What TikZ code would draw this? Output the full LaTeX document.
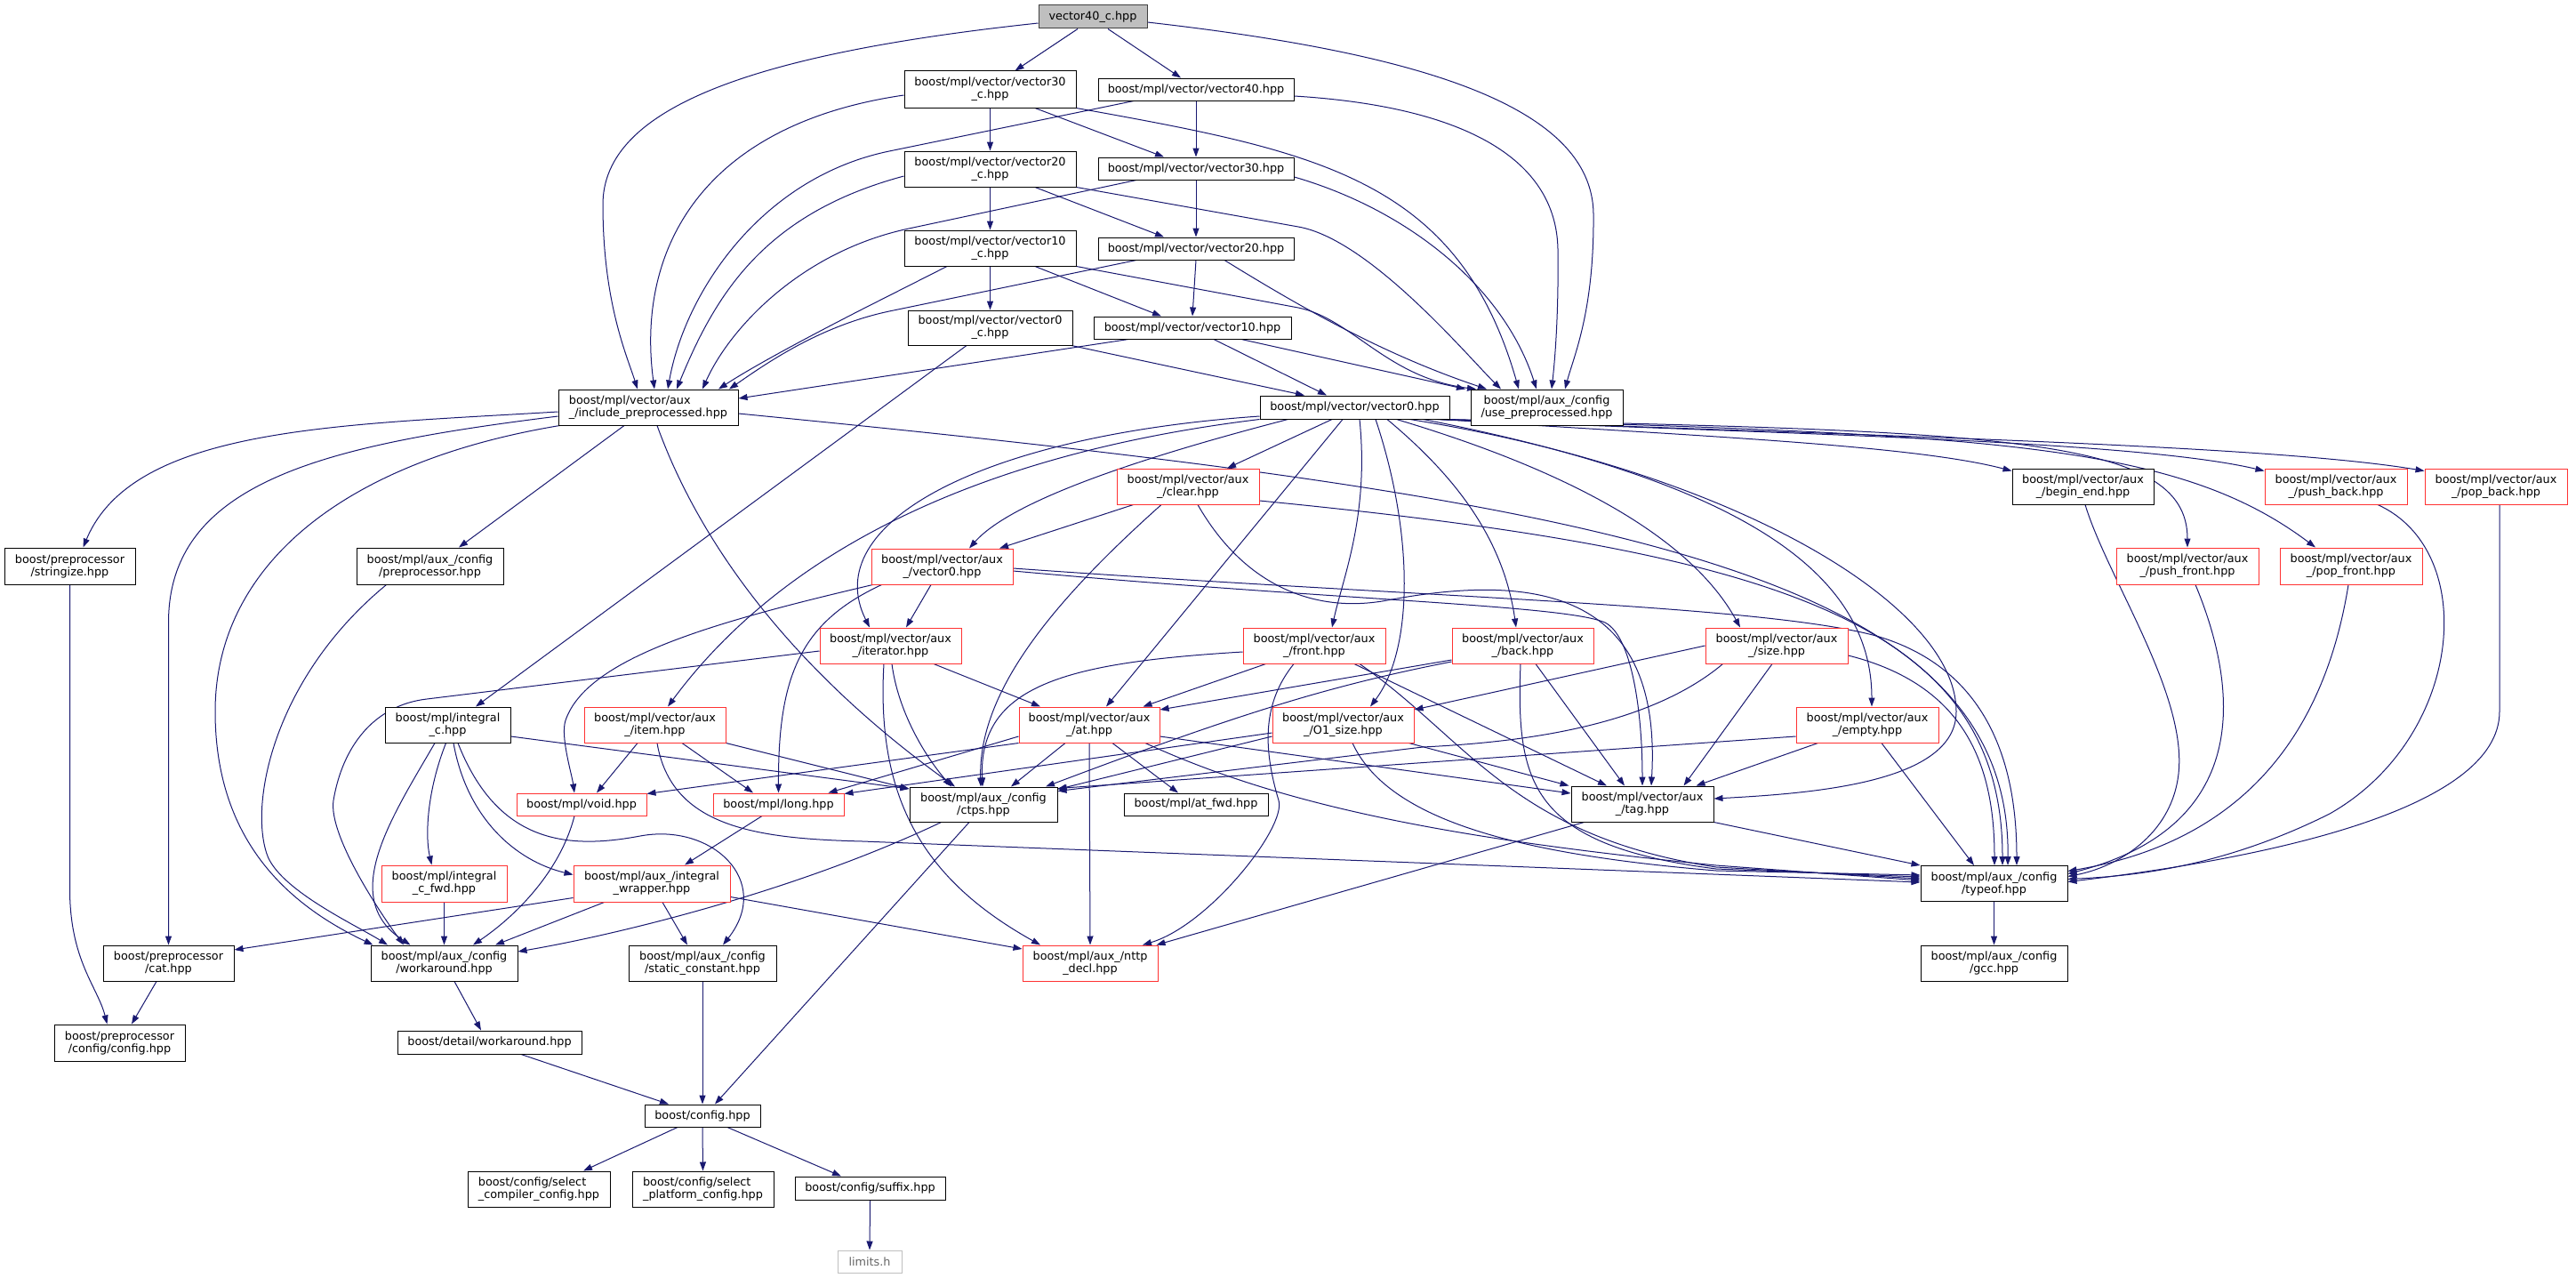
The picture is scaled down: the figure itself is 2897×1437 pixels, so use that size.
\documentclass[tikz,border=0pt]{standalone}
\usepackage{fontspec}
\setmainfont{DejaVu Sans}
\usetikzlibrary{arrows.meta}
\definecolor{medge}{RGB}{25,25,112}
\definecolor{tred}{RGB}{255,50,50}
\definecolor{gfill}{RGB}{191,191,191}
\definecolor{gline}{RGB}{191,191,191}
\newcommand{\dxfont}{\fontsize{12.8pt}{14pt}\selectfont}
\pgfdeclarelayer{bg}
\pgfsetlayers{bg,main}
\tikzset{
  box/.style={draw=black, line width=1pt, fill=white, inner sep=0pt, align=center, font=\dxfont, text=black},
  rbox/.style={box, draw=tred},
  wh/.style 2 args={minimum width=#1pt, minimum height=#2pt},
  e/.style={draw=medge, line width=1pt, -{Triangle[length=10pt,width=7pt]}},
}
\begin{document}
\begin{tikzpicture}[x=1pt,y=-1pt]
\useasboundingbox (0,0) rectangle (2897,1437);
% ---------- nodes ----------
\node[box, wh={122}{26}, fill=gfill, draw=black!75] (v40c) at (1229,19) {vector40\_c.hpp};
\node[box, wh={193}{41}] (v30c) at (1113.5,100.5) {boost/mpl/vector/vector30\\\_c.hpp};
\node[box, wh={220}{25}] (v40) at (1345,100.5) {boost/mpl/vector/vector40.hpp};
\node[box, wh={193}{40}] (v20c) at (1113.5,190) {boost/mpl/vector/vector20\\\_c.hpp};
\node[box, wh={220}{25}] (v30) at (1345,189.5) {boost/mpl/vector/vector30.hpp};
\node[box, wh={193}{40}] (v10c) at (1113.5,279) {boost/mpl/vector/vector10\\\_c.hpp};
\node[box, wh={220}{25}] (v20) at (1345,279.5) {boost/mpl/vector/vector20.hpp};
\node[box, wh={185}{39}] (v0c) at (1113.5,368.5) {boost/mpl/vector/vector0\\\_c.hpp};
\node[box, wh={222}{25}] (v10) at (1341,368.5) {boost/mpl/vector/vector10.hpp};
\node[box, wh={213}{26}] (v0) at (1523.5,458) {boost/mpl/vector/vector0.hpp};
\node[box, wh={171}{40}] (usep) at (1739.5,458) {boost/mpl/aux\_/config\\/use\_preprocessed.hpp};
\node[box, wh={202}{40}, align=left] (incp) at (729,458) {boost/mpl/vector/aux\\\_/include\_preprocessed.hpp};
\node[box, wh={147}{41}] (stringize) at (78.5,636.5) {boost/preprocessor\\/stringize.hpp};
\node[box, wh={165}{41}] (pp) at (483.5,636.5) {boost/mpl/aux\_/config\\/preprocessor.hpp};
\node[rbox, wh={160}{40}] (clear) at (1336,547) {boost/mpl/vector/aux\\\_/clear.hpp};
\node[rbox, wh={159}{40}] (av0) at (1059.5,637) {boost/mpl/vector/aux\\\_/vector0.hpp};
\node[rbox, wh={159}{40}] (iterator) at (1001.5,726) {boost/mpl/vector/aux\\\_/iterator.hpp};
\node[rbox, wh={160}{40}] (front) at (1478,726) {boost/mpl/vector/aux\\\_/front.hpp};
\node[rbox, wh={159}{40}] (back) at (1712.5,726) {boost/mpl/vector/aux\\\_/back.hpp};
\node[rbox, wh={160}{40}] (size) at (1998,726) {boost/mpl/vector/aux\\\_/size.hpp};
\node[rbox, wh={160}{40}] (empty) at (2100,815) {boost/mpl/vector/aux\\\_/empty.hpp};
\node[box, wh={159}{40}] (begin_end) at (2342.5,547) {boost/mpl/vector/aux\\\_/begin\_end.hpp};
\node[rbox, wh={160}{40}] (push_back) at (2627,547) {boost/mpl/vector/aux\\\_/push\_back.hpp};
\node[rbox, wh={160}{40}] (pop_back) at (2807,547) {boost/mpl/vector/aux\\\_/pop\_back.hpp};
\node[rbox, wh={160}{41}] (push_front) at (2460,636.5) {boost/mpl/vector/aux\\\_/push\_front.hpp};
\node[rbox, wh={160}{41}] (pop_front) at (2644,636.5) {boost/mpl/vector/aux\\\_/pop\_front.hpp};
\node[box, wh={141}{40}] (integral_c) at (503.5,815) {boost/mpl/integral\\\_c.hpp};
\node[rbox, wh={159}{40}] (item) at (736.5,815) {boost/mpl/vector/aux\\\_/item.hpp};
\node[rbox, wh={158}{40}] (at) at (1225,815) {boost/mpl/vector/aux\\\_/at.hpp};
\node[rbox, wh={159}{40}] (O1) at (1510.5,815) {boost/mpl/vector/aux\\\_/O1\_size.hpp};
\node[rbox, wh={146}{25}] (void) at (654,904.5) {boost/mpl/void.hpp};
\node[rbox, wh={147}{25}] (long) at (875.5,904.5) {boost/mpl/long.hpp};
\node[box, wh={166}{39}] (ctps) at (1106,904.5) {boost/mpl/aux\_/config\\/ctps.hpp};
\node[box, wh={162}{25}] (atfwd) at (1345,904.5) {boost/mpl/at\_fwd.hpp};
\node[box, wh={160}{40}] (tag) at (1847,904) {boost/mpl/vector/aux\\\_/tag.hpp};
\node[box, wh={165}{40}] (typeof) at (2242.5,993.5) {boost/mpl/aux\_/config\\/typeof.hpp};
\node[box, wh={165}{40}] (gcc) at (2242.5,1083) {boost/mpl/aux\_/config\\/gcc.hpp};
\node[rbox, wh={141}{41}] (icfwd) at (499.5,993.5) {boost/mpl/integral\\\_c\_fwd.hpp};
\node[rbox, wh={176}{41}] (iw) at (733,993.5) {boost/mpl/aux\_/integral\\\_wrapper.hpp};
\node[rbox, wh={152}{40}] (nttp) at (1226,1083) {boost/mpl/aux\_/nttp\\\_decl.hpp};
\node[box, wh={147}{40}] (cat) at (189.5,1083) {boost/preprocessor\\/cat.hpp};
\node[box, wh={165}{40}] (workaround) at (499.5,1083) {boost/mpl/aux\_/config\\/workaround.hpp};
\node[box, wh={166}{40}] (static_constant) at (790,1083) {boost/mpl/aux\_/config\\/static\_constant.hpp};
\node[box, wh={147}{41}] (ppcfg) at (134.5,1172.5) {boost/preprocessor\\/config/config.hpp};
\node[box, wh={207}{26}] (dwa) at (550.5,1172) {boost/detail/workaround.hpp};
\node[box, wh={130}{25}] (config) at (790,1254.5) {boost/config.hpp};
\node[box, wh={160}{40}, align=left] (selc) at (606,1337) {boost/config/select\\\_compiler\_config.hpp};
\node[box, wh={159}{40}, align=left] (selp) at (790.5,1337) {boost/config/select\\\_platform\_config.hpp};
\node[box, wh={169}{26}] (suffix) at (978.5,1336) {boost/config/suffix.hpp};
\node[box, wh={72}{25}, draw=gline, text=black!60] (limits) at (978,1418.5) {limits.h};
% ---------- edges ----------
\begin{pgfonlayer}{bg}
% vector40_c
\draw[e] ([xshift=-17pt]v40c.south) -- ([xshift=28pt]v30c.north);
\draw[e] ([xshift=17pt]v40c.south) -- ([xshift=-17pt]v40.north);
\draw[e] ([yshift=-6pt]v40c.east) .. controls (1600,60) and (1790,120) .. (1792,240) .. controls (1793,350) and (1770,400) .. ([xshift=20.5pt]usep.north);
\draw[e] ([yshift=-7pt]v40c.west) .. controls (850,60) and (678,120) .. (678,230) .. controls (678,340) and (705,400) .. ([xshift=-12pt]incp.north);
% vector30_c
\draw[e] (v30c.south) -- (v20c.north);
\draw[e] ([xshift=50.5pt]v30c.south) -- ([xshift=-36pt]v30.north);
\draw[e] (v30c.south east) .. controls (1480,170) and (1640,200) .. ([xshift=-31.5pt]usep.north);
\draw[e] ([yshift=-6.5pt]v30c.west) .. controls (790,140) and (715,280) .. ([xshift=7pt]incp.north);
% vector40
\draw[e] (v40.south) -- (v30.north);
\draw[e] ([yshift=-7.5pt]v40.east) .. controls (1650,120) and (1750,180) .. (1752,280) .. controls (1753,360) and (1748,410) .. ([xshift=5.5pt]usep.north);
\draw[e] ([xshift=-70pt]v40.south) -- (1000,170) .. controls (855,200) and (770,330) .. ([xshift=22pt]incp.north);
% vector20_c
\draw[e] (v20c.south) -- (v10c.north);
\draw[e] ([xshift=50.5pt]v20c.south) -- ([xshift=-36pt]v20.north);
\draw[e] (v20c.south east) -- (1460,255) .. controls (1540,269) and (1650,400) .. ([xshift=-51.5pt]usep.north);
\draw[e] ([yshift=-8pt]v20c.west) .. controls (860,240) and (805,330) .. ([xshift=32pt]incp.north);
% vector30
\draw[e] (v30.south) -- (v20.north);
\draw[e] ([yshift=-9.5pt]v30.east) .. controls (1580,235) and (1690,320) .. ([xshift=-11.5pt]usep.north);
\draw[e] ([xshift=-67pt]v30.south) -- (1022,257) .. controls (900,283) and (820,370) .. ([xshift=61pt]incp.north);
% vector10_c
\draw[e] (v10c.south) -- (v0c.north);
\draw[e] ([xshift=50.5pt]v10c.south) -- ([xshift=-35pt]v10.north);
\draw[e] (v10c.south east) -- (1460,346) .. controls (1520,358) and (1560,425) .. ([xshift=-79.5pt]usep.north);
\draw[e] ([xshift=-48.5pt]v10c.south) -- (975,345) .. controls (920,373) and (850,410) .. ([xshift=79pt]incp.north);
% vector20
\draw[e] (v20.south) -- (v10.north);
\draw[e] ([xshift=32pt]v20.south) .. controls (1470,350) and (1560,400) .. ([xshift=-67.5pt]usep.north);
\draw[e] ([xshift=-67pt]v20.south) -- (1000,350) .. controls (920,367) and (860,410) .. ([xshift=91pt]incp.north);
% vector0_c
\draw[e] ([xshift=91.5pt]v0c.south) -- ([xshift=-56.5pt]v0.north);
\draw[e] ([xshift=-26.5pt]v0c.south) -- ([xshift=31.5pt]integral_c.north);
% vector10
\draw[e] ([xshift=24pt]v10.south) -- ([xshift=-31.5pt]v0.north);
\draw[e] ([xshift=55pt]v10.south) -- ([xshift=-91.5pt]usep.north);
\draw[e] ([xshift=-72pt]v10.south) -- ([yshift=10pt]incp.east);
% include_preprocessed
\draw[e] ([yshift=-5pt]incp.west) .. controls (380,478) and (150,480) .. ([xshift=15pt]stringize.north);
\draw[e] ([xshift=-27pt]incp.south) -- ([xshift=32.5pt]pp.north);
\draw[e] ([yshift=-10pt]incp.west) .. controls (370,500) and (189.5,540) .. (189.5,700) -- (cat.north);
\draw[e] ([xshift=2pt]incp.south west) .. controls (380,520) and (242,640) .. (242,800) .. controls (242,950) and (330,1020) .. ([xshift=3pt]workaround.north west);
\draw[e] ([xshift=10pt]incp.south) .. controls (790,620) and (900,760) .. ([xshift=-32pt]ctps.north);
\draw[e] ([yshift=-7pt]incp.east) .. controls (1800,560) and (2262,640) .. ([xshift=15.5pt]typeof.north);
% vector0
\draw[e] ([xshift=-25.5pt]v0.south) -- ([xshift=44pt]clear.north);
\draw[e] ([xshift=32pt]v0.south west) .. controls (1300,510) and (1140,560) .. ([xshift=30.5pt]av0.north);
\draw[e] ([yshift=-10pt]v0.west) .. controls (1100,490) and (920,590) .. ([xshift=-23.5pt]iterator.north);
\draw[e] (v0.south west) .. controls (1100,510) and (880,620) .. ([xshift=14.5pt]item.north);
\draw[e] ([xshift=-13.5pt]v0.south) -- ([xshift=19pt]at.north);
\draw[e] ([xshift=5.5pt]v0.south) .. controls (1540,580) and (1510,650) .. ([xshift=20pt]front.north);
\draw[e] ([xshift=23.5pt]v0.south) .. controls (1590,600) and (1590,730) .. ([xshift=30.5pt]O1.north);
\draw[e] ([xshift=36.5pt]v0.south) .. controls (1630,530) and (1690,600) .. ([xshift=-7.5pt]back.north);
\draw[e] ([xshift=-60pt]v0.south east) .. controls (1800,540) and (1910,620) .. ([xshift=-41pt]size.north);
\draw[e] ([xshift=-30pt]v0.south east) .. controls (1950,540) and (2105,640) .. ([xshift=5pt]empty.north);
\draw[e] ([xshift=-45pt]v0.south east) .. controls (1950,530) and (2200,680) .. (2200,800) .. controls (2200,880) and (2040,892) .. ([yshift=6pt]tag.east);
\draw[e] ([xshift=-10pt]v0.south east) .. controls (1900,490) and (2150,500) .. ([yshift=-3pt]begin_end.north west);
\draw[e] ([xshift=-14pt]v0.south east) .. controls (2000,488) and (2400,495) .. ([yshift=-3pt]push_back.north west);
\draw[e] ([xshift=-17pt]v0.south east) .. controls (2100,490) and (2550,500) .. ([yshift=-3pt]pop_back.north west);
\draw[e] ([xshift=-5pt]v0.south east) .. controls (2250,485) and (2460,490) .. (push_front.north);
\draw[e] ([xshift=-8pt]v0.south east) .. controls (2250,488) and (2450,500) .. ([xshift=-40pt]pop_front.north);
% aux vector0
\draw[e] ([xshift=-12.5pt]av0.south) -- ([xshift=17.5pt]iterator.north);
\draw[e] ([xshift=2pt]av0.south west) .. controls (800,700) and (660,740) .. (636,810) .. controls (630,828) and (643,870) .. ([xshift=-8pt]void.north);
\draw[e] ([xshift=12pt]av0.south west) .. controls (900,700) and (875,760) .. (long.north);
\draw[e] ([yshift=-5pt]av0.east) .. controls (1500,675) and (1760,680) .. (1805,700) .. controls (1835,715) and (1847,800) .. (tag.north);
\draw[e] ([yshift=-2pt]av0.east) .. controls (1600,672) and (1980,680) .. (2110,715) .. controls (2230,750) and (2268,850) .. ([xshift=25.5pt]typeof.north);
% clear
\draw[e] ([xshift=19pt]clear.south west) -- ([xshift=64.5pt]av0.north);
\draw[e] ([xshift=-30pt]clear.south) .. controls (1180,680) and (1100,780) .. ([xshift=-3pt]ctps.north);
\draw[e] ([xshift=11pt]clear.south) .. controls (1400,660) and (1480,690) .. (1560,675) .. controls (1720,645) and (1870,660) .. ([xshift=10pt]tag.north);
\draw[e] ([yshift=-16pt]clear.east) .. controls (2000,620) and (2252,700) .. ([xshift=9.5pt]typeof.north);
% iterator
\draw[e] ([xshift=48.5pt]iterator.south) -- ([xshift=-55pt]at.north);
\draw[e] ([xshift=1.5pt]iterator.south) .. controls (1010,800) and (1040,850) .. ([xshift=-36pt]ctps.north);
\draw[e] ([xshift=-7.5pt]iterator.south) .. controls (985,900) and (1040,990) .. ([xshift=-56pt]nttp.north);
\draw[e] ([yshift=-6pt]iterator.west) -- (480,786) .. controls (420,793) and (385,840) .. (375,900) .. controls (369,940) and (430,1030) .. ([xshift=-45.5pt]workaround.north);
% item
\draw[e] ([xshift=-19.5pt]item.south) -- ([xshift=17pt]void.north);
\draw[e] ([xshift=30.5pt]item.south) -- ([xshift=-28.5pt]long.north);
\draw[e] (item.south east) -- ([yshift=17.5pt]ctps.west);
\draw[e] ([xshift=2.5pt]item.south) .. controls (755,930) and (850,943) .. (970,946) -- ([yshift=1.5pt]typeof.west);
% at
\draw[e] (at.south west) -- ([yshift=12pt]void.east);
\draw[e] ([yshift=-13pt]at.west) -- ([xshift=-18pt]long.north east);
\draw[e] ([xshift=-27pt]at.south) -- ([xshift=31pt]ctps.north);
\draw[e] ([xshift=26pt]at.south) -- ([xshift=-20pt]atfwd.north);
\draw[e] (at.south) -- (nttp.north);
\draw[e] ([yshift=-13pt]at.east) -- ([yshift=12pt]tag.west);
\draw[e] ([xshift=63pt]at.south) .. controls (1450,910) and (1650,945) .. (1930,973) -- ([yshift=3.5pt]typeof.west);
% front
\draw[e] ([xshift=26pt]front.south west) -- ([xshift=-19pt]at.north east);
\draw[e] ([yshift=-7pt]front.west) .. controls (1200,745) and (1100,770) .. ([xshift=-1pt]ctps.north);
\draw[e] ([xshift=-23pt]front.south) .. controls (1420,790) and (1420,840) .. (1438,900) .. controls (1447,930) and (1360,1040) .. ([xshift=59pt]nttp.north);
\draw[e] ([xshift=45pt]front.south) -- ([xshift=-40pt]tag.north);
\draw[e] ([xshift=51pt]front.south) .. controls (1650,830) and (1700,940) .. (1930,975) -- ([yshift=5.5pt]typeof.west);
% back
\draw[e] ([yshift=-16pt]back.west) -- ([yshift=17pt]at.east);
\draw[e] ([yshift=-18pt]back.west) .. controls (1500,770) and (1400,800) .. ([xshift=70pt]ctps.north);
\draw[e] ([xshift=14.5pt]back.south) -- ([xshift=-20pt]tag.north);
\draw[e] ([xshift=-2.5pt]back.south) .. controls (1705,880) and (1720,950) .. (1930,977) -- ([yshift=7.5pt]typeof.west);
% O1_size
\draw[e] ([yshift=-13pt]O1.west) -- ([yshift=17pt]ctps.east);
\draw[e] ([yshift=-9pt]O1.west) -- ([yshift=12pt]long.east);
\draw[e] ([xshift=-6pt]O1.south east) -- ([xshift=-2pt]tag.north west);
\draw[e] ([xshift=10.5pt]O1.south) .. controls (1560,920) and (1700,960) .. (1930,979) -- ([yshift=9.5pt]typeof.west);
% size
\draw[e] (size.west) -- ([yshift=17pt]O1.east);
\draw[e] ([xshift=20pt]size.south west) .. controls (1850,820) and (1700,835) .. (1600,840) -- ([yshift=15pt]ctps.east);
\draw[e] ([xshift=-5pt]size.south) -- ([xshift=-34pt]tag.north east);
\draw[e] ([yshift=-11pt]size.east) .. controls (2210,770) and (2243,860) .. ([xshift=0.5pt]typeof.north);
% empty
\draw[e] ([yshift=-13pt]empty.west) -- ([yshift=18pt]ctps.east);
\draw[e] ([xshift=25pt]empty.south west) -- ([xshift=-20pt]tag.north east);
\draw[e] ([xshift=16pt]empty.south) -- ([xshift=-22.5pt]typeof.north);
% right column
\draw[e] ([xshift=2.5pt]begin_end.south) .. controls (2370,650) and (2460,780) .. (2450,870) .. controls (2442,940) and (2380,975) .. ([yshift=8pt]typeof.east);
\draw[e] ([xshift=9pt]push_front.south) .. controls (2520,780) and (2530,930) .. ([yshift=11pt]typeof.east);
\draw[e] ([xshift=-3pt]pop_front.south) .. controls (2610,850) and (2500,950) .. ([yshift=14pt]typeof.east);
\draw[e] ([xshift=47pt]push_back.south) .. controls (2790,620) and (2770,830) .. (2620,915) .. controls (2500,975) and (2400,985) .. ([yshift=5pt]typeof.east);
\draw[e] ([xshift=4pt]pop_back.south) -- (2811,800) .. controls (2811,910) and (2550,965) .. ([yshift=2pt]typeof.east);
% tag, typeof
\draw[e] (tag.south east) -- (typeof.north west);
\draw[e] ([xshift=15pt]tag.south west) -- ([xshift=-2pt]nttp.north east);
\draw[e] (typeof.south) -- (gcc.north);
% ctps
\draw[e] ([xshift=36pt]ctps.south west) .. controls (900,1000) and (700,1050) .. ([yshift=13pt]workaround.east);
\draw[e] ([xshift=-16pt]ctps.south) -- ([xshift=14pt]config.north);
% integral_c
\draw[e] ([yshift=-13pt]integral_c.east) -- ([yshift=17.5pt]ctps.west);
\draw[e] ([xshift=-14.5pt]integral_c.south) .. controls (440,920) and (380,1010) .. ([xshift=-38pt]workaround.north);
\draw[e] ([xshift=-2pt]integral_c.south) .. controls (480,890) and (478,940) .. ([xshift=-14pt]icfwd.north);
\draw[e] ([xshift=6.5pt]integral_c.south) .. controls (525,920) and (580,968) .. ([yshift=10pt]iw.west);
\draw[e] ([xshift=11.5pt]integral_c.south) .. controls (560,950) and (640,955) .. (720,940) .. controls (800,925) and (870,990) .. ([xshift=23pt]static_constant.north);
% small ones
\draw[e] ([xshift=-8pt]void.south) .. controls (630,980) and (580,1030) .. ([xshift=32.5pt]workaround.north);
\draw[e] ([xshift=-18.5pt]long.south) -- ([xshift=37pt]iw.north);
\draw[e] (icfwd.south) -- (workaround.north);
\draw[e] ([yshift=-16pt]iw.west) -- ([yshift=15pt]cat.east);
\draw[e] ([xshift=35pt]iw.south west) -- ([xshift=57.5pt]workaround.north);
\draw[e] ([xshift=12pt]iw.south) -- ([xshift=-17pt]static_constant.north);
\draw[e] ([yshift=-15pt]iw.east) -- ([yshift=16pt]nttp.west);
\draw[e] ([xshift=34pt]pp.south west) .. controls (310,760) and (280,900) .. (300,960) .. controls (313,1000) and (400,1040) .. ([xshift=-63.5pt]workaround.north);
\draw[e] (stringize.south) -- (78.5,1000) .. controls (78.5,1080) and (110,1110) .. ([xshift=-14pt]ppcfg.north);
\draw[e] ([xshift=-13.5pt]cat.south) -- ([xshift=13.5pt]ppcfg.north);
\draw[e] ([xshift=11.5pt]workaround.south) -- ([xshift=-9.5pt]dwa.north);
\draw[e] ([xshift=35.5pt]dwa.south) -- ([xshift=-38pt]config.north);
\draw[e] (static_constant.south) -- (config.north);
\draw[e] ([xshift=-28pt]config.south) -- ([xshift=50pt]selc.north);
\draw[e] (config.south) -- (selp.north);
\draw[e] ([xshift=28pt]config.south) -- ([xshift=-32.5pt]suffix.north);
\draw[e] (suffix.south) -- (limits.north);
\end{pgfonlayer}
\end{tikzpicture}
\end{document}
